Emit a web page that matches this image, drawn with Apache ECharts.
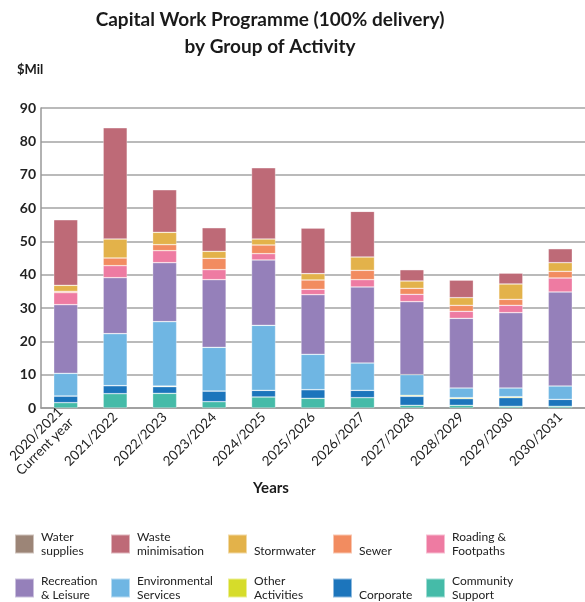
<!DOCTYPE html>
<html>
<head>
<meta charset="utf-8">
<script src="https://cdn.jsdelivr.net/npm/echarts@6/dist/echarts.min.js"></script>
<style>
  html, body { margin: 0; padding: 0; background: #fff; }
  #chart { width: 585px; height: 602px; }
</style>
</head>
<body>
<div id="chart"></div>
<script>
// years on the x axis
var years = ['2020/2021\nCurrent year', '2021/2022', '2022/2023', '2023/2024', '2024/2025',
  '2025/2026', '2026/2027', '2027/2028', '2028/2029', '2029/2030', '2030/2031']

// $Mil per group of activity, stacked bottom to top
var communitySupport = [1.6, 4.3, 4.4, 1.9, 3.3, 2.9, 3.1, 0.8, 0.8, 0.5, 0.5]
var corporate = [2.0, 2.4, 2.0, 3.2, 2.0, 2.6, 2.2, 2.7, 2.0, 2.6, 2.1]
var otherActivities = [0, 0, 0.2, 0, 0, 0, 0, 0.3, 0.3, 0.3, 0]
var environmental = [6.8, 15.6, 19.3, 13.1, 19.5, 10.6, 8.2, 6.2, 2.9, 2.6, 4.0]
var recreation = [20.6, 16.8, 17.7, 20.3, 19.6, 17.9, 22.8, 21.9, 20.9, 22.6, 28.2]
var roading = [3.6, 3.6, 3.6, 3.0, 1.9, 1.6, 2.2, 2.2, 2.1, 2.2, 4.2]
var sewer = [0.4, 2.3, 1.8, 3.4, 2.6, 2.8, 2.8, 1.8, 1.8, 1.8, 2.0]
var stormwater = [1.8, 5.7, 3.7, 2.1, 1.8, 1.9, 4.0, 2.2, 2.3, 4.6, 2.6]
var wasteMinimisation = [19.7, 33.4, 12.8, 7.1, 21.4, 13.7, 13.7, 3.4, 5.3, 3.3, 4.2]
var waterSupplies = [0, 0, 0, 0, 0, 0, 0, 0, 0, 0, 0]

var FONT = 'Lato, "Noto Sans", sans-serif'

// series in stacking order (bottom first)
var groups = [
  { name: 'Community Support', label: 'Community\nSupport', color: '#45BBA8', data: communitySupport },
  { name: 'Corporate', label: '\nCorporate', color: '#1C75BC', data: corporate },
  { name: 'Other Activities', label: 'Other\nActivities', color: '#D6DC2A', data: otherActivities },
  { name: 'Environmental Services', label: 'Environmental\nServices', color: '#6FB6E3', data: environmental },
  { name: 'Recreation & Leisure', label: 'Recreation\n& Leisure', color: '#9580BA', data: recreation },
  { name: 'Roading & Footpaths', label: 'Roading &\nFootpaths', color: '#EE7BA2', data: roading },
  { name: 'Sewer', label: '\nSewer', color: '#F28C60', data: sewer },
  { name: 'Stormwater', label: '\nStormwater', color: '#E3B24A', data: stormwater },
  { name: 'Waste minimisation', label: 'Waste\nminimisation', color: '#BE6A77', data: wasteMinimisation },
  { name: 'Water supplies', label: 'Water\nsupplies', color: '#9C8577', data: waterSupplies }
]

// legend grid: two rows of five
var legendOrder = [
  ['Water supplies', 'Waste minimisation', 'Stormwater', 'Sewer', 'Roading & Footpaths'],
  ['Recreation & Leisure', 'Environmental Services', 'Other Activities', 'Corporate', 'Community Support']
]
var legendLeft = [14, 110, 227, 332, 425]
var legendTop = [533, 577]

var labelOf = {}
groups.forEach(function (g) { labelOf[g.name] = g.label })

var legends = []
legendOrder.forEach(function (row, r) {
  row.forEach(function (name, c) {
    legends.push({
      data: [name],
      left: legendLeft[c],
      top: legendTop[r] - 3,
      padding: 0,
      itemWidth: 19,
      itemHeight: 19,
      selectedMode: false,
      icon: 'rect',
      formatter: function (n) { return labelOf[n] },
      textStyle: {
        fontFamily: FONT,
        fontSize: 12,
        color: '#222',
        lineHeight: 14,
        padding: [0, 0, 0, 2]
      }
    })
  })
})

var chart = echarts.init(document.getElementById('chart'))
chart.setOption({
  animation: false,
  color: groups.map(function (g) { return g.color }),
  graphic: [
    {
      type: 'text',
      x: 270,
      y: 6,
      style: {
        text: 'Capital Work Programme (100% delivery)\nby Group of Activity',
        textAlign: 'center',
        font: 'bold 19px ' + FONT,
        lineHeight: 27,
        fill: '#1a1a1a'
      }
    },
    {
      type: 'text',
      x: 17,
      y: 63,
      style: { text: '$Mil', font: 'bold 13px ' + FONT, fill: '#1a1a1a' }
    },
    {
      type: 'text',
      x: 271,
      y: 481,
      style: { text: 'Years', textAlign: 'center', font: 'bold 15px ' + FONT, fill: '#1a1a1a' }
    }
  ],
  legend: legends,
  grid: {
    left: 41,
    width: 548,
    top: 108,
    height: 300
  },
  xAxis: {
    type: 'category',
    data: years,
    axisTick: { show: false },
    axisLine: { lineStyle: { color: '#999', width: 1.5 } },
    axisLabel: {
      interval: 0,
      rotate: 45,
      margin: 7,
      fontFamily: FONT,
      fontSize: 13.5,
      color: '#222',
      lineHeight: 15
    }
  },
  yAxis: {
    type: 'value',
    min: 0,
    max: 90,
    interval: 10,
    axisLine: { show: true, lineStyle: { color: '#999', width: 1.5 } },
    axisTick: { show: false },
    axisLabel: {
      margin: 5,
      fontFamily: FONT,
      fontSize: 14,
      fontWeight: 'bold',
      color: '#222'
    },
    splitLine: { lineStyle: { color: '#a3a3a3', width: 1.5 } }
  },
  series: groups.map(function (g) {
    return {
      name: g.name,
      type: 'bar',
      stack: 'total',
      barWidth: 24,
      data: g.data,
      itemStyle: {
        color: g.color,
        borderColor: 'rgba(255,255,255,0.5)',
        borderWidth: 0.6
      }
    }
  })
})
</script>
</body>
</html>
